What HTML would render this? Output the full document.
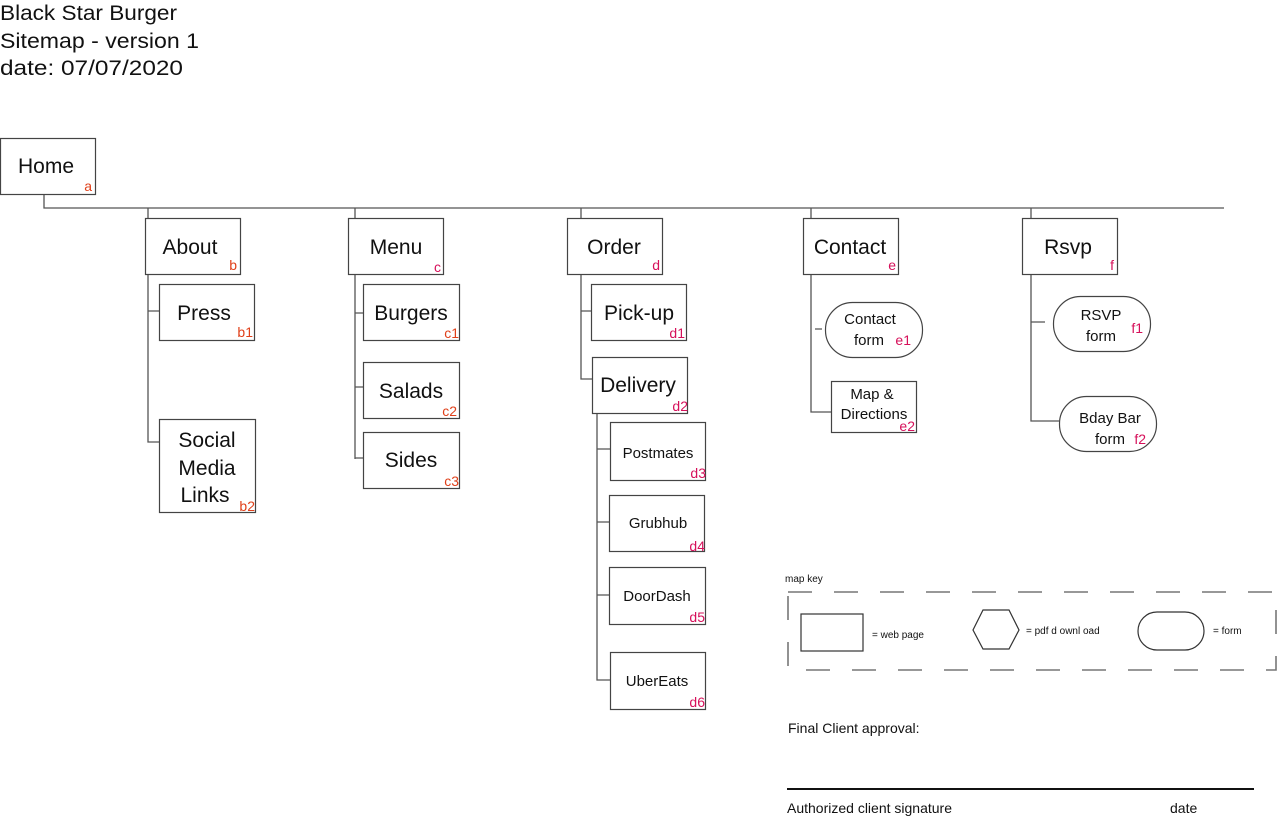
<!DOCTYPE html>
<html><head><meta charset="utf-8"><style>
html,body{margin:0;padding:0;background:#fff;}
svg{display:block;font-family:"Liberation Sans",sans-serif;}
.b{fill:#fff;stroke:#444;stroke-width:1.2}
.l{stroke:#555;stroke-width:1.3;fill:none}
.t{font-size:21px;fill:#111;text-anchor:middle}
.s{font-size:15px;fill:#111;text-anchor:middle}
.c{font-size:14px;fill:#e0401a;text-anchor:end}
.m{font-size:14px;fill:#d6105a;text-anchor:end}
</style></head><body>
<svg width="1277" height="817" viewBox="0 0 1277 817">
<text x="0" y="20" font-size="21" fill="#111" textLength="177" lengthAdjust="spacingAndGlyphs">Black Star Burger</text>
<text x="0" y="48" font-size="21" fill="#111" textLength="199" lengthAdjust="spacingAndGlyphs">Sitemap - version 1</text>
<text x="0" y="75" font-size="21" fill="#111" textLength="183" lengthAdjust="spacingAndGlyphs">date: 07/07/2020</text>

<path class="l" d="M44 194V208H1224"/>
<path class="l" d="M148 208V442H159M148 311H159"/>
<path class="l" d="M355 208V459M355 313H363M355 387H363M355 458H363"/>
<path class="l" d="M581 208V379H592M581 311H591"/>
<path class="l" d="M597 413V680H610M597 449H610M597 522H609M597 595H609"/>
<path class="l" d="M811 208V412H831M815 329H822"/>
<path class="l" d="M1031 208V421H1059M1031 322H1045"/>

<rect class="b" x="0.5" y="138.5" width="95" height="56"/><text class="t" x="46" y="173">Home</text><text class="c" x="92" y="191">a</text>
<rect class="b" x="145.5" y="218.5" width="95" height="56"/><text class="t" x="190" y="254">About</text><text class="c" x="237" y="270">b</text>
<rect class="b" x="159.5" y="284.5" width="95" height="56"/><text class="t" x="204" y="320">Press</text><text class="c" x="253" y="337">b1</text>
<rect class="b" x="159.5" y="419.5" width="96" height="93"/><text class="t" x="207" y="447">Social</text><text class="t" x="207" y="475">Media</text><text class="t" x="205" y="502">Links</text><text class="c" x="255" y="511">b2</text>

<rect class="b" x="348.5" y="218.5" width="95" height="56"/><text class="t" x="396" y="254">Menu</text><text class="m" x="441" y="272">c</text>
<rect class="b" x="363.5" y="284.5" width="96" height="56"/><text class="t" x="411" y="320">Burgers</text><text class="c" x="459" y="338">c1</text>
<rect class="b" x="363.5" y="362.5" width="96" height="56"/><text class="t" x="411" y="398">Salads</text><text class="c" x="457" y="416">c2</text>
<rect class="b" x="363.5" y="432.5" width="96" height="56"/><text class="t" x="411" y="467">Sides</text><text class="c" x="459" y="486">c3</text>

<rect class="b" x="567.5" y="218.5" width="95" height="56"/><text class="t" x="614" y="254">Order</text><text class="m" x="660" y="270">d</text>
<rect class="b" x="591.5" y="284.5" width="95" height="56"/><text class="t" x="639" y="320">Pick-up</text><text class="m" x="685" y="338">d1</text>
<rect class="b" x="592.5" y="357.5" width="95" height="56"/><text class="t" x="638" y="392">Delivery</text><text class="m" x="688" y="411">d2</text>
<rect class="b" x="610.5" y="422.5" width="95" height="58"/><text class="s" x="658" y="458">Postmates</text><text class="m" x="706" y="478">d3</text>
<rect class="b" x="609.5" y="495.5" width="95" height="56"/><text class="s" x="658" y="528">Grubhub</text><text class="m" x="705" y="551">d4</text>
<rect class="b" x="609.5" y="567.5" width="96" height="57"/><text class="s" x="657" y="601">DoorDash</text><text class="m" x="705" y="622">d5</text>
<rect class="b" x="610.5" y="652.5" width="95" height="57"/><text class="s" x="657" y="686">UberEats</text><text class="m" x="705" y="707">d6</text>

<rect class="b" x="803.5" y="218.5" width="95" height="56"/><text class="t" x="850" y="254">Contact</text><text class="m" x="896" y="270">e</text>
<rect class="b" x="825.5" y="302.5" width="97" height="55" rx="27"/><text class="s" x="870" y="324">Contact</text><text class="s" x="869" y="345">form</text><text class="m" x="911" y="345" font-size="11">e1</text>
<rect class="b" x="831.5" y="381.5" width="85" height="51"/><text class="s" x="872" y="399">Map &amp;</text><text class="s" x="874" y="419">Directions</text><text class="m" x="915" y="431">e2</text>

<rect class="b" x="1022.5" y="218.5" width="95" height="56"/><text class="t" x="1068" y="254">Rsvp</text><text class="m" x="1114" y="270">f</text>
<rect class="b" x="1053.5" y="296.5" width="97" height="55" rx="27"/><text class="s" x="1101" y="320">RSVP</text><text class="s" x="1101" y="341">form</text><text class="m" x="1143" y="333" font-size="11">f1</text>
<rect class="b" x="1059.5" y="396.5" width="97" height="55" rx="27"/><text class="s" x="1110" y="423">Bday Bar</text><text class="s" x="1110" y="444">form</text><text class="m" x="1146" y="444" font-size="11">f2</text>

<text x="785" y="582" font-size="10" fill="#111">map key</text>
<rect x="788" y="592" width="488" height="78" fill="none" stroke="#777" stroke-width="1.6" stroke-dasharray="24,22"/>
<rect x="801" y="614" width="62" height="37" fill="none" stroke="#333" stroke-width="1.2"/>
<text x="872" y="638" font-size="10" fill="#111">= web page</text>
<polygon points="983,610 1009,610 1019,630 1009,649 983,649 973,630" fill="none" stroke="#333" stroke-width="1.2"/>
<text x="1026" y="634" font-size="10" fill="#111">= pdf d ownl oad</text>
<rect x="1138" y="612" width="66" height="38" rx="19" fill="none" stroke="#333" stroke-width="1.2"/>
<text x="1213" y="634" font-size="10" fill="#111">= form</text>

<text x="788" y="733" font-size="14" fill="#111">Final Client approval:</text>
<line x1="787" y1="789" x2="1254" y2="789" stroke="#111" stroke-width="2"/>
<text x="787" y="813" font-size="14" fill="#111">Authorized client signature</text>
<text x="1170" y="813" font-size="14" fill="#111">date</text>
</svg>
</body></html>
